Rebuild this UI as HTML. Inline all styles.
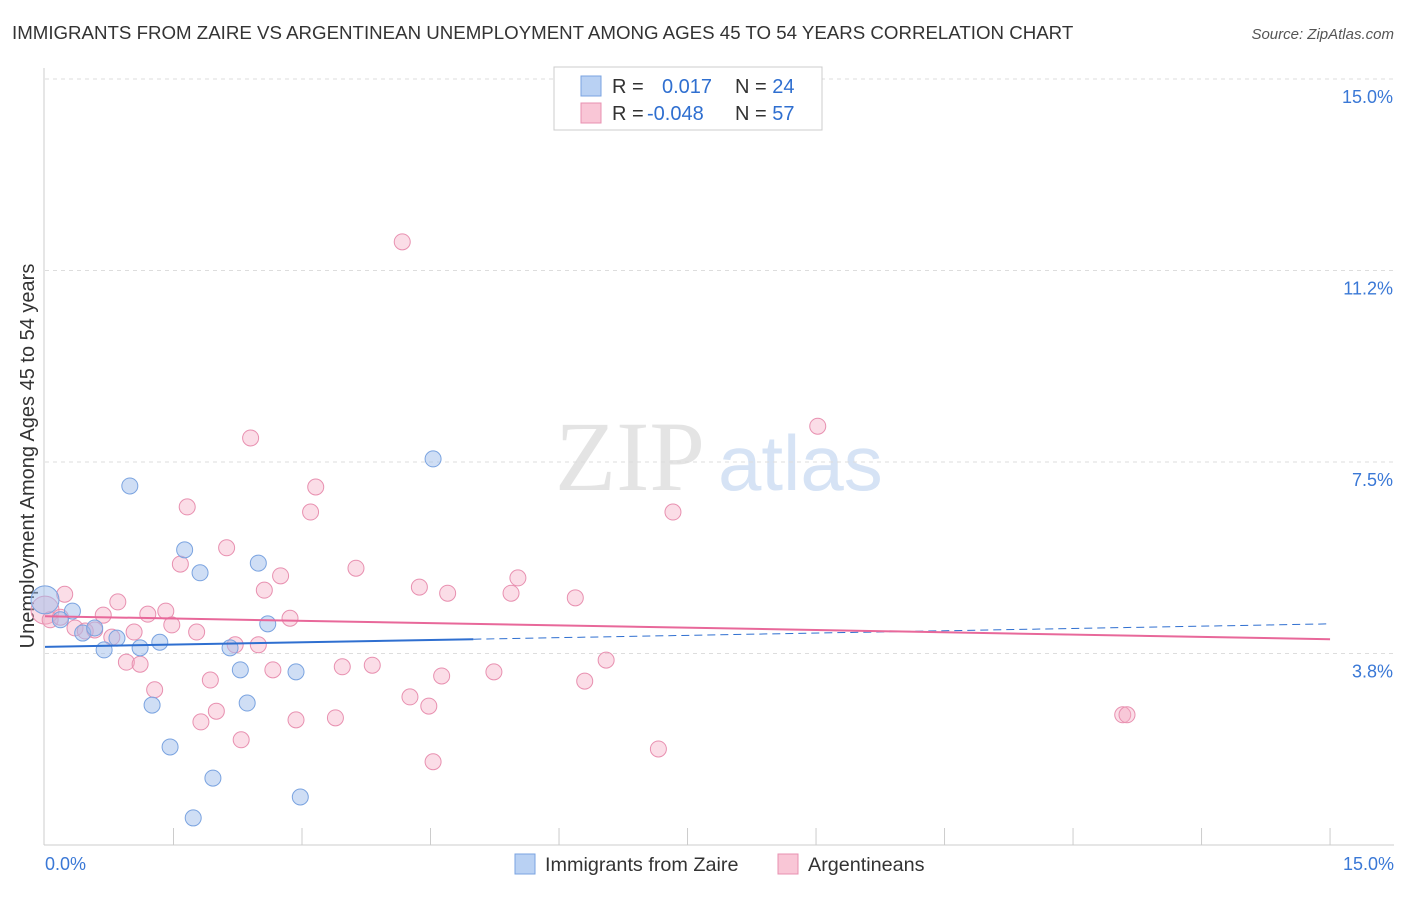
<!DOCTYPE html>
<html><head><meta charset="utf-8"><style>
body{margin:0;background:#fff;font-family:"Liberation Sans",sans-serif;}
</style></head><body>
<svg width="1406" height="892" xmlns="http://www.w3.org/2000/svg" id="chart" font-family="Liberation Sans, sans-serif">
<text x="12" y="39" font-size="18.7" fill="#333">IMMIGRANTS FROM ZAIRE VS ARGENTINEAN UNEMPLOYMENT AMONG AGES 45 TO 54 YEARS CORRELATION CHART</text>
<text x="1394" y="39" font-size="15" fill="#555" text-anchor="end" font-style="italic">Source: ZipAtlas.com</text>
<text x="555" y="490" font-size="100" fill="#e4e4e4" font-family="Liberation Serif, serif">ZIP</text>
<text x="718" y="490" font-size="78" fill="#d6e3f5">atlas</text>
<text transform="translate(34,456) rotate(-90)" font-size="20" fill="#333" text-anchor="middle">Unemployment Among Ages 45 to 54 years</text>
<g id="grid"></g><g id="marks"></g>
<g>
<rect x="554" y="67" width="268" height="63" fill="#fff" stroke="#ccc"/>
<rect x="581" y="76" width="20" height="20" fill="#b9d1f3" stroke="#7aa3e0"/>
<rect x="581" y="103" width="20" height="20" fill="#f9c6d6" stroke="#e890b0"/>
<text x="612" y="93" font-size="20" fill="#333">R =  <tspan fill="#2f6fd0" x="662">0.017</tspan><tspan x="735" fill="#333">N = </tspan><tspan fill="#2f6fd0">24</tspan></text>
<text x="612" y="120" font-size="20" fill="#333">R = <tspan fill="#2f6fd0" x="647">-0.048</tspan><tspan x="735" fill="#333">N = </tspan><tspan fill="#2f6fd0">57</tspan></text>
</g>
<g>
<rect x="515" y="854" width="20" height="20" fill="#b9d1f3" stroke="#7aa3e0"/>
<text x="545" y="871" font-size="19.8" fill="#333">Immigrants from Zaire</text>
<rect x="778" y="854" width="20" height="20" fill="#f9c6d6" stroke="#e890b0"/>
<text x="808" y="871" font-size="19.8" fill="#333">Argentineans</text>
</g>
</svg>
<script>
const xTicks=[0,1.5,3,4.5,6,7.5,9,10.5,12,13.5,15];
const yTicks=[3.75,7.5,11.25,15];
const yTickLabels=["3.8%","7.5%","11.2%","15.0%"];
const blueX=[0,0.32,0.18,0.44,0.58,0.69,0.84,0.99,1.11,1.25,1.34,1.46,1.63,1.73,1.81,1.96,2.16,2.28,2.36,2.49,2.60,2.93,2.98,4.53];
const blueY=[4.80,4.58,4.41,4.15,4.25,3.82,4.05,7.03,3.86,2.74,3.97,1.92,5.78,0.53,5.33,1.31,3.86,3.43,2.78,5.52,4.33,3.39,0.94,7.56];
const pinkX=[0,0.06,0.23,0.18,0.35,0.47,0.58,0.68,0.78,0.85,0.95,1.04,1.11,1.20,1.28,1.41,1.48,1.58,1.66,1.77,1.82,1.93,2.00,2.12,2.22,2.29,2.40,2.49,2.56,2.66,2.75,2.86,2.93,3.10,3.16,3.39,3.47,3.63,3.82,4.17,4.26,4.37,4.48,4.53,4.63,4.70,5.24,5.44,5.52,6.19,6.30,6.55,7.16,7.33,9.02,12.58,12.63];
const pinkY=[4.60,4.41,4.91,4.46,4.25,4.19,4.21,4.50,4.07,4.76,3.58,4.17,3.54,4.52,3.04,4.58,4.31,5.50,6.62,4.17,2.41,3.23,2.62,5.82,3.92,2.06,7.97,3.92,4.99,3.43,5.27,4.44,2.45,6.52,7.01,2.49,3.49,5.42,3.52,11.81,2.90,5.05,2.72,1.63,3.31,4.93,3.39,4.93,5.23,4.84,3.21,3.62,1.88,6.52,8.20,2.55,2.55];
const blueTrend=[3.88,4.33], blueSolidEnd=5.0;
const pinkTrend=[4.48,4.03];
const NS="http://www.w3.org/2000/svg";
const X=v=>45+v*85.67, Y=v=>845-v*51.07;
const grid=document.getElementById('grid'), marks=document.getElementById('marks');
function mk(p,tag,a){const e=document.createElementNS(NS,tag);for(const k in a)e.setAttribute(k,a[k]);p.appendChild(e);return e;}
mk(grid,'line',{x1:44,y1:68,x2:44,y2:845,stroke:'#ccc'});
mk(grid,'line',{x1:44,y1:845,x2:1394,y2:845,stroke:'#ccc'});
yTicks.forEach((t,i)=>{
 const l=mk(grid,'line',{x1:45,x2:1394,y1:Y(t),y2:Y(t),stroke:'#ddd','stroke-dasharray':'4,4'});
 
 
 const tx=mk(grid,'text',{x:1393,y:Y(t)+24,'font-size':18,fill:'#3a78d6','text-anchor':'end'});
 tx.textContent=yTickLabels[i];
 
 
});
xTicks.forEach(t=>{if(t>0){const l=mk(grid,'line',{x1:X(t),x2:X(t),y1:828,y2:845,stroke:'#ccc'});
 
 }});
const xl=mk(grid,'text',{x:45,y:870,'font-size':18,fill:'#3a78d6'});xl.textContent='0.0%';


const xr=mk(grid,'text',{x:1394,y:870,'font-size':18,fill:'#3a78d6','text-anchor':'end'});xr.textContent='15.0%';


pinkX.forEach((v,i)=>{const c=mk(marks,'circle',{cx:X(v),cy:Y(pinkY[i]),r:i==0?14:8,fill:'rgba(245,170,195,0.4)',stroke:'#e890b0','stroke-width':1});
 
 });
blueX.forEach((v,i)=>{const c=mk(marks,'circle',{cx:X(v),cy:Y(blueY[i]),r:i==0?14:8,fill:'rgba(160,190,235,0.5)',stroke:'#7aa3e0','stroke-width':1});
 
 });
const by=v=>blueTrend[0]+(blueTrend[1]-blueTrend[0])*v/15;
const b1=mk(marks,'line',{x1:X(0),y1:Y(by(0)),x2:X(blueSolidEnd),y2:Y(by(blueSolidEnd)),stroke:'#2f6fd0','stroke-width':2});


const b2=mk(marks,'line',{x1:X(blueSolidEnd),y1:Y(by(blueSolidEnd)),x2:X(15),y2:Y(by(15)),stroke:'#2f6fd0','stroke-width':1,'stroke-dasharray':'8,5'});


const p1=mk(marks,'line',{x1:X(0),y1:Y(pinkTrend[0]),x2:X(15),y2:Y(pinkTrend[1]),stroke:'#e8689a','stroke-width':2});


</script>
</body></html>
